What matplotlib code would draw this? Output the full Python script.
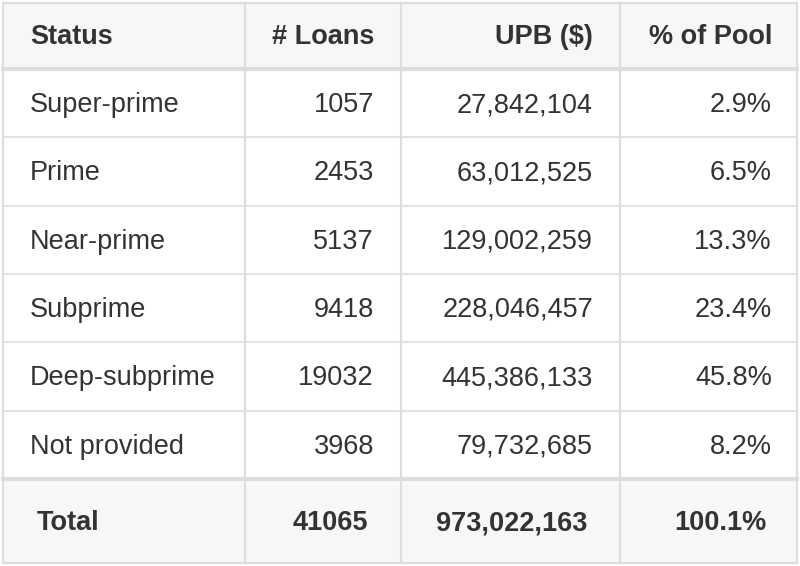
import matplotlib
matplotlib.use("Agg")
import matplotlib.pyplot as plt
from matplotlib.patches import Rectangle

headers = ["Status", "# Loans", "UPB ($)", "% of Pool"]
status = ["Super-prime", "Prime", "Near-prime", "Subprime", "Deep-subprime", "Not provided"]
loans = [1057, 2453, 5137, 9418, 19032, 3968]
upb = ["27,842,104", "63,012,525", "129,002,259", "228,046,457", "445,386,133", "79,732,685"]
pct = ["2.9%", "6.5%", "13.3%", "23.4%", "45.8%", "8.2%"]
total = ["Total", "41065", "973,022,163", "100.1%"]

W, H = 800, 566
fig = plt.figure(figsize=(8, 5.66), dpi=100)
ax = fig.add_axes([0, 0, 1, 1])
ax.set_xlim(0, W); ax.set_ylim(H, 0); ax.axis("off")
plt.rcParams['font.family'] = ['Liberation Sans', 'DejaVu Sans']

lc = "#dddddd"; tc = "#333333"; bg = "#f7f7f7"
colx = [3, 245, 401, 620, 797]
top_total, bot = 480, 563

ax.add_patch(Rectangle((3, 3), 794, 66, color=bg, zorder=0))
ax.add_patch(Rectangle((3, top_total), 794, bot - top_total, color=bg, zorder=0))
for x in colx:
    ax.plot([x, x], [3, bot], color=lc, lw=1.5, zorder=1)
ax.plot([3, 797], [3, 3], color=lc, lw=1.5)
ax.plot([3, 797], [bot, bot], color=lc, lw=1.5)
ax.plot([3, 797], [69, 69], color=lc, lw=3)
ax.plot([3, 797], [479, 479], color=lc, lw=3)
for i in range(1, 6):
    y = 69 + 68.3 * i
    ax.plot([3, 797], [y, y], color=lc, lw=1.2)

fs = 19.5
rx = [374, 593, 772]
ax.text(30, 37, headers[0], fontsize=fs, weight="bold", color=tc, va="center", ha="left")
for j in range(3):
    ax.text(rx[j], 37, headers[j + 1], fontsize=fs, weight="bold", color=tc, va="center", ha="right")
for i in range(6):
    y = 69 + 68.3 * i + 36
    ax.text(30, y, status[i], fontsize=fs, color=tc, va="center", ha="left")
    for j, v in enumerate([str(loans[i]), upb[i], pct[i]]):
        ax.text(rx[j], y, v, fontsize=fs, color=tc, va="center", ha="right")
yt = (top_total + bot) / 2 + 2
ax.text(37, yt, total[0], fontsize=fs, weight="bold", color=tc, va="center", ha="left")
for j, v in enumerate(total[1:]):
    ax.text(rx[j] - 6, yt, v, fontsize=fs, weight="bold", color=tc, va="center", ha="right")

fig.savefig("out.png", dpi=100, facecolor="white")
